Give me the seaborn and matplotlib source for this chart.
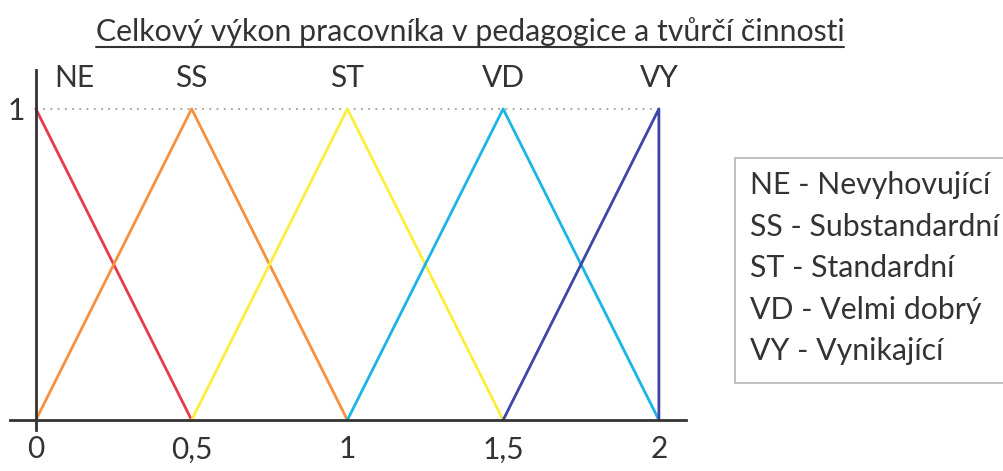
import matplotlib
matplotlib.use("Agg")
import matplotlib.pyplot as plt
import seaborn as sns
import pandas as pd
from matplotlib.patches import Rectangle

sns.set_theme(style="white")
plt.rcParams['font.family'] = ['Lato', 'DejaVu Sans']

# Membership functions of the fuzzy grades
codes = ["NE", "SS", "ST", "VD", "VY"]
names = ["Nevyhovující", "Substandardní", "Standardní", "Velmi dobrý", "Vynikající"]
ne_x = [0.0, 0.5]
ne_y = [1.0, 0.0]
ss_x = [0.0, 0.5, 1.0]
ss_y = [0.0, 1.0, 0.0]
st_x = [0.5, 1.0, 1.5]
st_y = [0.0, 1.0, 0.0]
vd_x = [1.0, 1.5, 2.0]
vd_y = [0.0, 1.0, 0.0]
vy_x = [1.5, 2.0, 2.0]
vy_y = [0.0, 1.0, 0.0]
peaks = [0.125, 0.5, 1.0, 1.5, 2.0]
x_ticks = [0, 0.5, 1, 1.5, 2]
x_tick_labels = ["0", "0,5", "1", "1,5", "2"]
colors = ["#e83a4c", "#f7913d", "#fbee3c", "#1bb4e6", "#3d46a6"]
title = "Celkový výkon pracovníka v pedagogice a tvůrčí činnosti"

W, H = 1004, 471
TXT = "#333333"
fig = plt.figure(figsize=(W / 100, H / 100), dpi=100)
ax = fig.add_axes([10 / W, (H - 430) / H, (686 - 10) / W, (430 - 70) / H])

xs = [ne_x, ss_x, st_x, vd_x, vy_x]
ys = [ne_y, ss_y, st_y, vd_y, vy_y]
for code, x, y, c in zip(codes, xs, ys, colors):
    df = pd.DataFrame({"x": x, "y": y})
    sns.lineplot(data=df, x="x", y="y", sort=False, estimator=None,
                 color=c, linewidth=2, ax=ax)

ax.plot([0, 2], [1, 1], linestyle=(0, (1, 3)), color="#a0a0a0", linewidth=1.3, zorder=0)

ax.set_xlim(-0.083, 2.087)
ax.set_ylim(-0.032, 1.125)
for s in ["top", "right"]:
    ax.spines[s].set_visible(False)
ax.spines["left"].set_position(("data", 0))
ax.spines["bottom"].set_position(("data", 0))
for s in ["left", "bottom"]:
    ax.spines[s].set_color(TXT)
    ax.spines[s].set_linewidth(2)

ax.set_xticks(x_ticks)
ax.set_xticklabels(x_tick_labels)
ax.set_yticks([1])
ax.set_yticklabels(["1"])
ax.tick_params(axis="x", direction="inout", length=12, width=2, color=TXT,
               labelsize=21.5, labelcolor=TXT, pad=5)
ax.tick_params(axis="y", length=0, labelsize=21.5, labelcolor=TXT, pad=8)
ax.set_xlabel("")
ax.set_ylabel("")

for code, p in zip(codes, peaks):
    ax.text(p, 1.1, code, ha="center", va="center", fontsize=21.5, color=TXT)

t = fig.text(470 / W, 1 - 32 / H, title, ha="center", va="center", fontsize=21.8,
             color=TXT)
# underline of the heading, as wide as the heading itself
fig.canvas.draw()
bb = t.get_window_extent().transformed(fig.transFigure.inverted())
fig.add_artist(plt.Line2D([bb.x0, bb.x1], [1 - 47 / H, 1 - 47 / H],
                          color=TXT, linewidth=1.5))

fig.add_artist(Rectangle((735 / W, 1 - 383 / H), 290 / W, 225 / H,
                         transform=fig.transFigure, facecolor="white",
                         edgecolor="#b5b5b5", linewidth=1.2))
for i, (code, name) in enumerate(zip(codes, names)):
    fig.text(750 / W, 1 - (185 + 41.5 * i) / H, f"{code} - {name}",
             ha="left", va="center", fontsize=21.8, color=TXT)

fig.savefig("out.png", dpi=100, facecolor="white")
